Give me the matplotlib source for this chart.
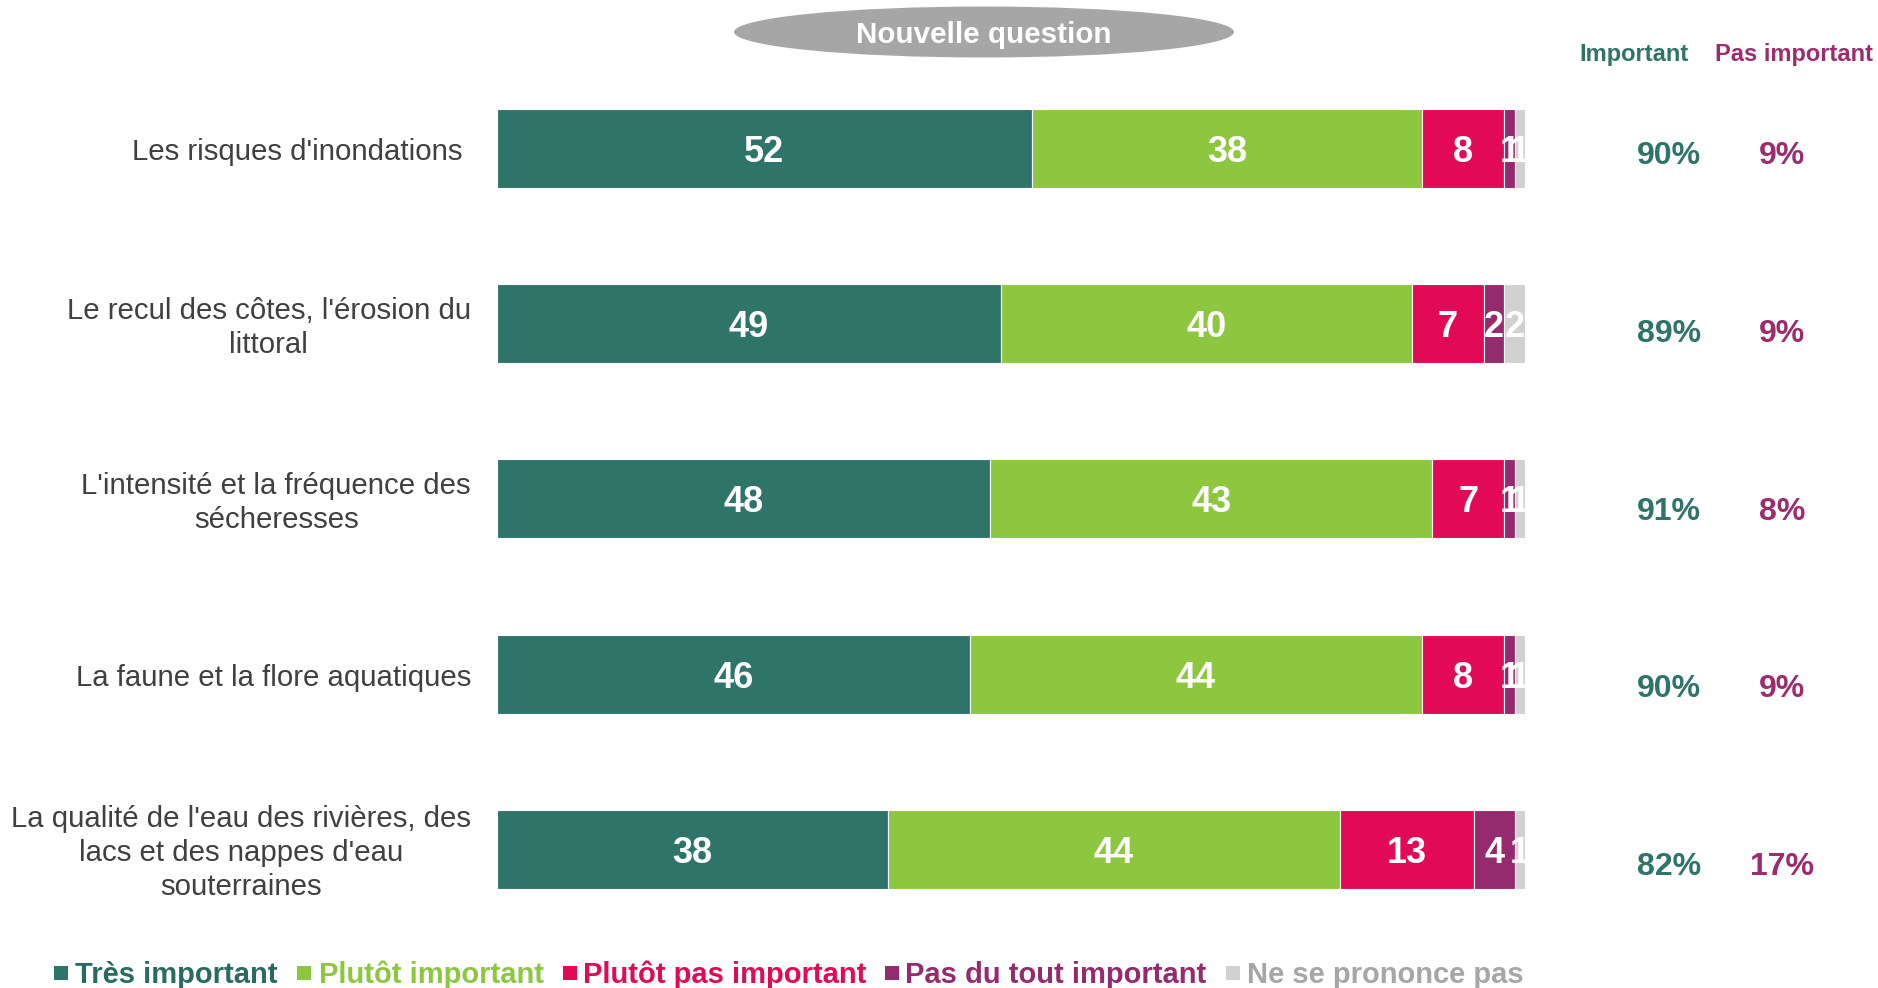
import matplotlib
matplotlib.use("Agg")
import matplotlib.pyplot as plt
from matplotlib.patches import Ellipse, Rectangle
import matplotlib.transforms as mtransforms

categories = [
    "Les risques d'inondations",
    "Le recul des côtes, l'érosion du\nlittoral",
    "L'intensité et la fréquence des\nsécheresses",
    "La faune et la flore aquatiques",
    "La qualité de l'eau des rivières, des\nlacs et des nappes d'eau\nsouterraines",
]
series_names = ["Très important", "Plutôt important", "Plutôt pas important",
                "Pas du tout important", "Ne se prononce pas"]
tres = [52, 49, 48, 46, 38]
plutot = [38, 40, 43, 44, 44]
plutot_pas = [8, 7, 7, 8, 13]
pas_du_tout = [1, 2, 1, 1, 4]
nsp = [1, 2, 1, 1, 1]
important = [90, 89, 91, 90, 82]
pas_important = [9, 9, 8, 9, 17]

colors = ["#2E7469", "#8DC63F", "#E20A55", "#952A6E", "#D2D1D2"]
legend_text_colors = ["#2A6B61", "#8DC63F", "#E20A55", "#952A6E", "#A6A6A6"]
TEAL = "#2E7469"
PURPLE = "#9B2C6E"

W, H = 1878, 988
fig = plt.figure(figsize=(W / 100, H / 100), dpi=100)
plt.rcParams['font.family'] = ['Liberation Sans', 'DejaVu Sans']

# axes: bars span x 497..1525 px, full figure height
ax = fig.add_axes([497 / W, 0, (1525 - 497) / W, 1])
ax.set_xlim(0, 100)
c0, sp = 148.5, 175.2
ax.set_ylim((H - c0) / sp, -c0 / sp)
ax.axis("off")

series = [tres, plutot, plutot_pas, pas_du_tout, nsp]
n = len(categories)
ypos = list(range(n))
dy = 4 / sp
left = [0] * n
for s, col in zip(series, colors):
    ax.barh(ypos, s, left=left, height=0.451, color=col, edgecolor="white", linewidth=0.8)
    for i in range(n):
        ax.text(left[i] + s[i] / 2, ypos[i] + dy, str(s[i]), ha="center", va="center",
                color="white", fontsize=26, fontweight="bold")
    left = [l + v for l, v in zip(left, s)]

def px(x, y):
    return x / W, 1 - y / H

# category labels
label_right = [462, 471, 471, 471, 471]
trans = mtransforms.blended_transform_factory(fig.transFigure, ax.transData)
for i, cat in enumerate(categories):
    ax.text(label_right[i] / W, ypos[i] + dy, cat, transform=trans, ha="right", va="center",
            multialignment="center", fontsize=21.2, color="#404040", linespacing=1.27)

# right columns
fig.text(*px(1634, 55), "Important", ha="center", va="center", fontsize=17,
         fontweight="bold", color=TEAL)
fig.text(*px(1794, 55), "Pas important", ha="center", va="center", fontsize=17,
         fontweight="bold", color=PURPLE)
for i in range(n):
    yv = 156 + i * 177.8
    fig.text(*px(1669, yv), f"{important[i]}%", ha="center", va="center", fontsize=23,
             fontweight="bold", color=TEAL)
    fig.text(*px(1782, yv), f"{pas_important[i]}%", ha="center", va="center", fontsize=23,
             fontweight="bold", color=PURPLE)

# oval header
ov = Ellipse(px(984, 32), 500 / W, 51 / H, transform=fig.transFigure,
             facecolor="#A6A6A6", edgecolor="none")
fig.patches.append(ov)
fig.text(*px(984, 35), "Nouvelle question", ha="center", va="center", fontsize=21.3,
         fontweight="bold", color="white")

# legend
sq_x = [54, 297, 563, 885, 1226]
tx_x = [75, 319, 583, 905, 1247]
ly = 975
for name, col, tcol, sx, tx in zip(series_names, colors, legend_text_colors, sq_x, tx_x):
    r = Rectangle(px(sx, ly + 5), 14 / W, 14 / H, transform=fig.transFigure,
                  facecolor=col, edgecolor="none")
    fig.patches.append(r)
    fig.text(*px(tx, ly), name, ha="left", va="center", fontsize=21, fontweight="bold",
             color=tcol, family=['Liberation Sans Narrow', 'Liberation Sans', 'DejaVu Sans'])

fig.savefig("out.png", dpi=100)
